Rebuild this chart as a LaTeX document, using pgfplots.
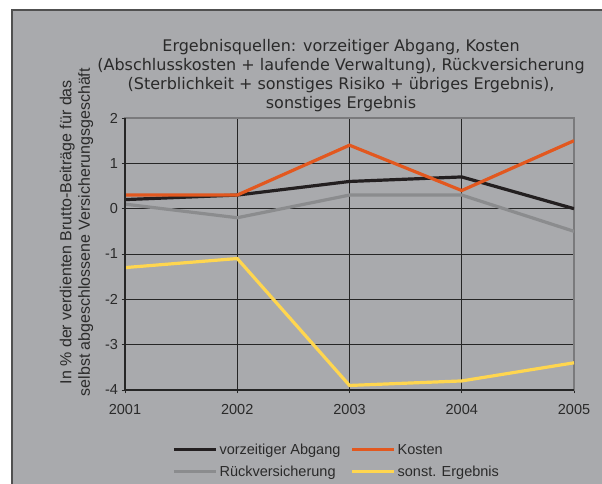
\documentclass[border=0pt]{standalone}
\usepackage{pgfplots}
\pgfplotsset{compat=1.18}
\usepackage{fontspec}
\setmainfont{Liberation Sans}
\newfontfamily\titlefont{DejaVu Sans}
\definecolor{bg}{HTML}{A9AAAD}
\definecolor{frame}{HTML}{505050}
\definecolor{txt}{HTML}{2A2A2A}
\definecolor{dark}{HTML}{262626}
\definecolor{gline}{HTML}{7A7A7C}
\definecolor{cA}{HTML}{231F20}
\definecolor{cK}{HTML}{E2581F}
\definecolor{cR}{HTML}{8B8C8E}
\definecolor{cS}{HTML}{FFD64F}
\begin{document}
\begin{tikzpicture}[x=1pt,y=1pt]
\useasboundingbox (0,0) rectangle (602,484);
\fill[white] (0,0) rectangle (602,484);
\fill[bg] (12,0) rectangle (602,474);
\draw[frame,line width=1.5pt] (12,0) -- (12,474) -- (602,474);
\node[align=center,text=txt,font=\titlefont\fontsize{16}{19}\selectfont] at (341,408)
 {Ergebnisquellen: vorzeitiger Abgang, Kosten\\(Abschlusskosten + laufende Verwaltung), Rückversicherung\\(Sterblichkeit + sonstiges Risiko + übriges Ergebnis),\\sonstiges Ergebnis};
\begin{axis}[
  at={(125pt,94pt)}, anchor=south west,
  scale only axis, width=449pt, height=272pt,
  xmin=2001, xmax=2005, ymin=-4, ymax=2,
  xtick={2001,2002,2003,2004,2005},
  ytick={-4,-3,-2,-1,1,2},
  extra y ticks={0},
  extra y tick style={grid style={gline,line width=1pt}},
  xtick pos=bottom, ytick pos=left,
  tick align=center,
  major tick length=7pt,
  tick style={dark,line width=0.8pt},
  grid=major,
  major grid style={dark,line width=0.8pt},
  axis line style={gline,line width=1.2pt},
  /pgf/number format/1000 sep={},
  /pgf/number format/assume math mode=true,
  ticklabel style={font=\fontsize{14.5}{16}\selectfont,text=txt},
  xticklabel style={yshift=-7pt},
  ylabel={In \% der verdienten Brutto-Beiträge für das\\selbst abgeschlossene Versicherungsgeschäft},
  ylabel style={align=center,font=\fontsize{16}{18.5}\selectfont,text=txt,at={(axis description cs:-0.108,0.58)},anchor=center},
  legend columns=2,
  legend style={at={(axis description cs:0.105,-0.19)},anchor=north west,draw=none,fill=none,
    font=\fontsize{14.5}{16}\selectfont,text=txt,
    /tikz/every even column/.append style={column sep=8pt},
    row sep=6pt, inner sep=0pt},
  legend cell align=left,
  legend image code/.code={\draw[#1,line width=3.2pt] (0pt,0pt) -- (42pt,0pt);},
  every axis plot/.append style={line width=3.2pt},
  after end axis/.code={\draw[dark,line width=1.2pt] (rel axis cs:0,1) -- (rel axis cs:0,0) -- (rel axis cs:1,0);},
]
\addplot[cA] coordinates {(2001,0.2) (2002,0.3) (2003,0.6) (2004,0.7) (2005,0.0)};
\addlegendentry{vorzeitiger Abgang}
\addplot[cK] coordinates {(2001,0.3) (2002,0.3) (2003,1.4) (2004,0.4) (2005,1.5)};
\addlegendentry{Kosten}
\addplot[cR] coordinates {(2001,0.1) (2002,-0.2) (2003,0.3) (2004,0.3) (2005,-0.5)};
\addlegendentry{Rückversicherung}
\addplot[cS] coordinates {(2001,-1.3) (2002,-1.1) (2003,-3.9) (2004,-3.8) (2005,-3.4)};
\addlegendentry{sonst. Ergebnis}
\end{axis}
\end{tikzpicture}
\end{document}
